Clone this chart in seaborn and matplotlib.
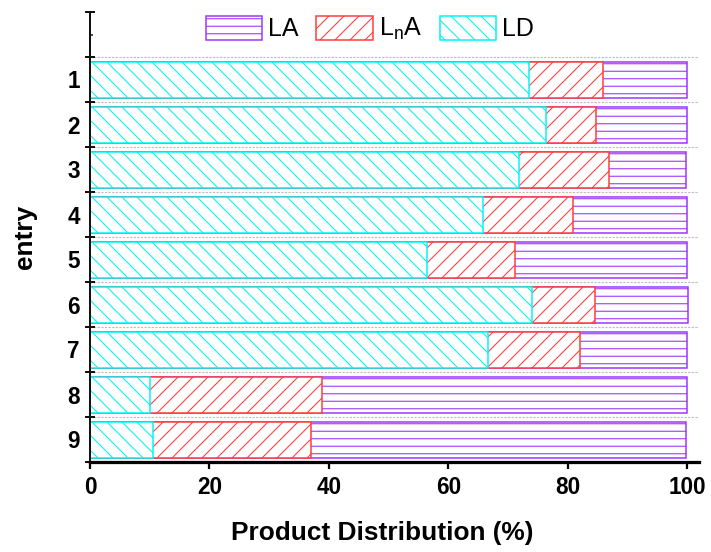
import numpy as np
import pandas as pd
import matplotlib
matplotlib.use("Agg")
import matplotlib.pyplot as plt
import seaborn as sns
from matplotlib.ticker import FixedLocator

# Product distribution (%) per entry
entries = ["1", "2", "3", "4", "5", "6", "7", "8", "9"]
ld = [73.5, 76.3, 71.9, 65.8, 56.4, 74.1, 66.7, 10.1, 10.6]
lna = [12.5, 8.4, 15.1, 15.1, 14.8, 10.4, 15.3, 28.8, 26.4]
la = [14.0, 15.3, 12.9, 19.1, 28.8, 15.6, 18.0, 61.1, 62.9]

series_labels = ["LA", r"L$_{n}$A", "LD"]
series_colors = ["#9933FF", "#FF3B3B", "#00F5F5"]
series_hatches = ["--", "//", "\\\\"]
x_ticks = [0, 20, 40, 60, 80, 100]

sns.set_theme(style="ticks")
plt.rcParams["font.family"] = ["Liberation Sans", "DejaVu Sans"]
plt.rcParams["mathtext.default"] = "regular"
plt.rcParams["hatch.linewidth"] = 0.85

df = pd.DataFrame({"entry": entries, "LD": ld, "LnA": lna, "LA": la})
# stacked bars drawn as overlapping cumulative totals (largest first)
df["LD_end"] = df["LD"]
df["LnA_end"] = df["LD"] + df["LnA"]
df["LA_end"] = df["LnA_end"] + df["LA"]

fig = plt.figure(figsize=(711 / 90, 552 / 90), dpi=90)
ax = fig.add_axes([90 / 711, 1 - 462 / 552, 609 / 711, 450 / 552])

# slot separators
for b in np.arange(len(entries)) - 0.5:
    ax.axhline(b, color="#BDBDBD", ls=(0, (2.0, 1.2)), lw=0.9, zorder=0)

for col, label, color, hatch in zip(["LA_end", "LnA_end", "LD_end"],
                                    series_labels, series_colors, series_hatches):
    sns.barplot(data=df, x=col, y="entry", order=entries, orient="h",
                color="white", saturation=1, width=0.8, errorbar=None,
                edgecolor=color, hatch=hatch, linewidth=1.2,
                label=label, ax=ax, zorder=2)

ax.set_xlim(0, 102)
ax.set_ylim(len(entries) - 0.5, -1.5)
ax.set_xticks(x_ticks)
ax.set_xticklabels([str(v) for v in x_ticks])
ax.set_yticks(np.arange(-1, len(entries)))
ax.set_yticklabels([""] + entries)
ax.yaxis.set_minor_locator(FixedLocator(np.arange(-1.5, len(entries))))

sns.despine(ax=ax, top=True, right=True)
ax.spines["left"].set_linewidth(1.6)
ax.spines["left"].set_color("#111111")
ax.spines["bottom"].set_linewidth(2.6)
ax.spines["bottom"].set_color("#000000")
ax.spines["bottom"].set_zorder(5)

ax.tick_params(axis="x", which="major", direction="out", length=5.5, width=1.8,
               color="#000000", labelsize=18, pad=6)
ax.tick_params(axis="y", which="major", direction="in", length=2.5, width=1.2,
               color="#111111", labelsize=18, pad=8)
ax.tick_params(axis="y", which="minor", direction="inout", length=8.5, width=1.6,
               color="#111111", left=True)
for t in ax.get_xticklabels() + ax.get_yticklabels():
    t.set_fontweight("bold")
    t.set_color("#000000")

ax.set_xlabel("Product Distribution (%)", fontsize=21, fontweight="bold", color="#000000")
ax.set_ylabel("entry", fontsize=21, fontweight="bold", color="#000000")
ax.xaxis.label.set_va("center")
ax.yaxis.label.set_va("center")
ax.xaxis.set_label_coords((382 - 90) / 609, -(533 - 462) / 450)
ax.yaxis.set_label_coords((25 - 90) / 609, 0.5)

handles, labels = ax.get_legend_handles_labels()
leg = ax.legend(handles, labels, loc="center", bbox_to_anchor=(370 / 711, 1 - 29 / 552),
                bbox_transform=fig.transFigure, ncol=3, frameon=False, fontsize=20,
                handlelength=2.25, handleheight=1.12, handletextpad=0.25,
                columnspacing=0.7, borderpad=0, borderaxespad=0)
for t in leg.get_texts():
    t.set_color("#000000")

fig.savefig("out.png", dpi=90)
